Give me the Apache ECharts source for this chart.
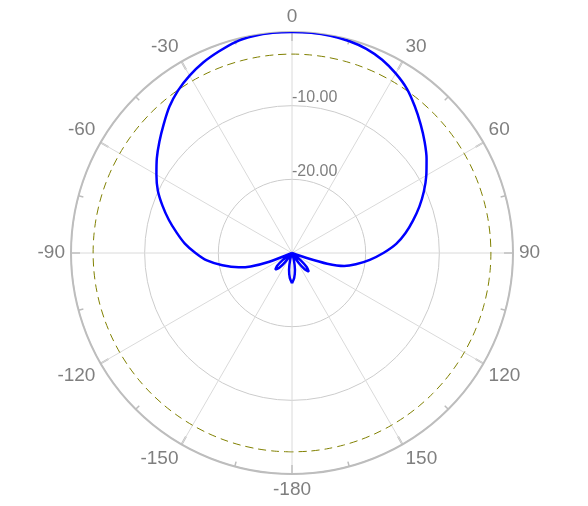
<!DOCTYPE html>
<html>
<head>
<meta charset="utf-8">
<script src="https://cdn.jsdelivr.net/npm/echarts@6/dist/echarts.min.js"></script>
<style>
html,body{margin:0;padding:0;background:#fff;}
#chart{width:588px;height:506px;}
</style>
</head>
<body>
<div id="chart"></div>
<script>
// Pattern angles (degrees) and gain (dB)
var patternAngles = [-180,-175,-170,-165,-162,-148,-143,-139,-135,-131,-127,-123,-113,-111,-108,-105,-100,-95,-90,-85,-80,-75,-70,-65,-60,-55,-50,-45,-40,-35,-30,-25,-20,-15,-10,-5,0,5,10,15,20,25,30,35,40,45,50,55,60,65,70,75,80,85,90,95,100,104,107,109,111,126,130,134,138,142,146,150,162,165,170,175,180];
var patternGain = [-25.9,-26.6,-27.7,-29,-30,-30,-28.4,-27.3,-26.8,-27.3,-28.4,-30,-30,-26.7,-24.1,-22.5,-20.4,-18.4,-16.9,-15.4,-14.1,-12.7,-11.3,-9.9,-8.75,-7.6,-6.5,-5.35,-4.1,-3.05,-2.2,-1.47,-0.9,-0.35,-0.1,0,0,0,-0.05,-0.2,-0.5,-1.05,-1.85,-2.8,-4.05,-5.3,-6.5,-7.7,-8.95,-10.25,-11.6,-13.0,-14.35,-15.8,-17.6,-19.4,-21.2,-22.7,-25,-28,-30,-30,-28.4,-27.2,-26.6,-27.2,-28.4,-30,-30,-29,-27.7,-26.6,-25.9];
// -3 dB reference ring
var refLevel = -3;
var refAngles = [];
for (var a = -180; a <= 180; a += 5) refAngles.push(a);
// axes
var angleTickLabels = [-180,-150,-120,-90,-60,-30,0,30,60,90,120,150];
var radiusMin = -30, radiusMax = 0, radiusStep = 10;

// angle axis runs 0..360 clockwise from the top; negative angles wrap
function wrap(a){ return a < 0 ? a + 360 : a; }
function unwrap(v){ return v >= 180 ? v - 360 : v; }

var patternData = patternAngles.map(function(a, i){ return [patternGain[i], wrap(a)]; });
var refData = refAngles.map(function(a){ return [refLevel, wrap(a)]; });

var chart = echarts.init(document.getElementById('chart'));
chart.setOption({
  animation: false,
  polar: { center: [292, 253], radius: 221 },
  angleAxis: {
    type: 'value', min: 0, max: 360, interval: 30,
    startAngle: 90, clockwise: true,
    axisLine: { show: true, lineStyle: { color: '#bdbdbd', width: 2 } },
    axisTick: { show: true, inside: true, length: 9, lineStyle: { color: '#bdbdbd', width: 2 } },
    minorTick: { show: true, splitNumber: 2, length: 5, lineStyle: { color: '#bdbdbd', width: 1.5 } },
    splitLine: { show: true, lineStyle: { color: '#dadada', width: 1 } },
    axisLabel: {
      margin: 6, color: '#7f7f7f', fontSize: 19, fontFamily: 'Liberation Sans, Arial, sans-serif',
      formatter: function(v){
        if (v >= 360) return '';
        var u = unwrap(v);
        return angleTickLabels.indexOf(u) >= 0 ? String(u) : '';
      }
    }
  },
  radiusAxis: {
    type: 'value', min: radiusMin, max: radiusMax, interval: radiusStep,
    axisLine: { show: false }, axisTick: { show: false },
    splitLine: { show: true, lineStyle: { color: '#cccccc', width: 1 } },
    axisLabel: {
      showMinLabel: false, showMaxLabel: false, margin: 0,
      align: 'left', verticalAlign: 'bottom',
      color: '#7f7f7f', fontSize: 16, fontFamily: 'Liberation Sans, Arial, sans-serif',
      formatter: function(v){ return v.toFixed(2); }
    }
  },
  series: [
    { type: 'line', coordinateSystem: 'polar', data: refData, showSymbol: false, silent: true,
      smooth: 0.3, lineStyle: { color: '#808000', width: 1, type: [8, 5] } },
    { type: 'line', coordinateSystem: 'polar', data: patternData, showSymbol: false, silent: true,
      smooth: 0.25, lineStyle: { color: '#0000ff', width: 2.5 } }
  ]
});
</script>
</body>
</html>
